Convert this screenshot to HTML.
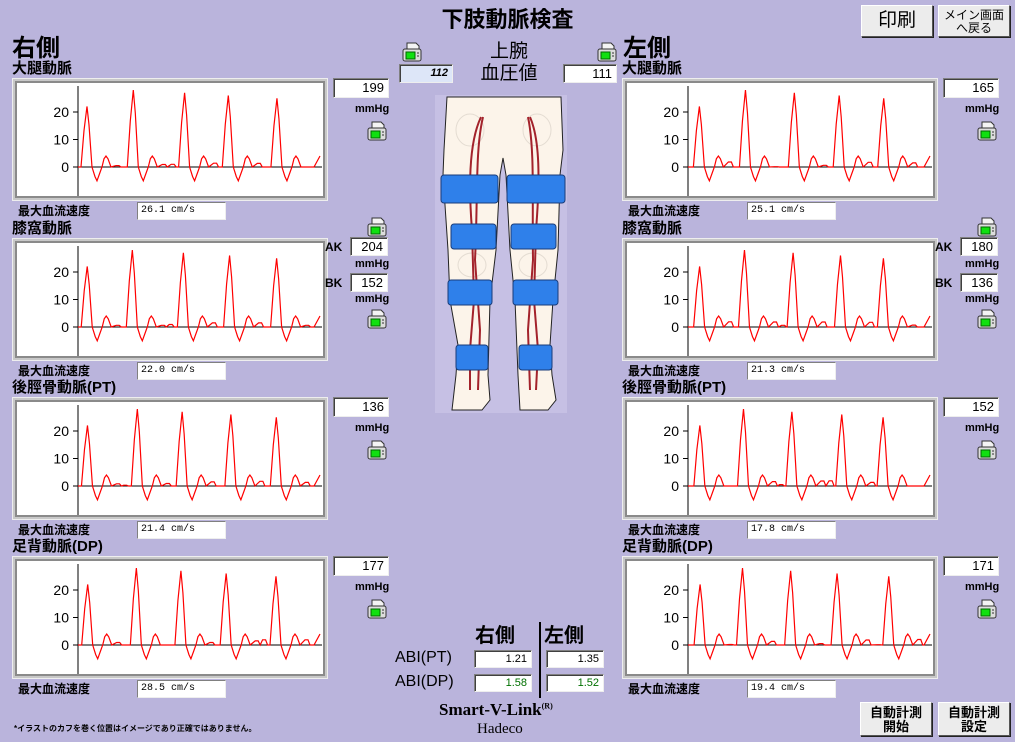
<!DOCTYPE html>
<html><head><meta charset="utf-8">
<style>
*{margin:0;padding:0;box-sizing:border-box}
body{width:1015px;height:742px;background:#bab4dc;position:relative;overflow:hidden;font-family:"Liberation Sans","Noto Sans CJK JP",sans-serif;color:#000}
.a{position:absolute;white-space:nowrap}
.box{position:absolute;background:#fff;border:1px solid #808080;border-right-color:#eee;border-bottom-color:#eee;box-shadow:inset 1px 1px 0 #404040;font-family:"Liberation Sans",sans-serif;font-size:13px;text-align:right;padding-right:4px;line-height:17px}
.vbox{position:absolute;background:#fff;border:1px solid #808080;border-right-color:#eee;border-bottom-color:#eee;font-family:"Liberation Mono",monospace;font-size:10px;padding-left:3px;line-height:16px}
.btn{position:absolute;background:#ececec;border:1px solid #fff;border-right-color:#555;border-bottom-color:#555;box-shadow:1px 1px 0 #222;text-align:center;font-weight:bold}
.lbl{font-size:15px;font-weight:bold;line-height:18px}
.mm{font-size:11px;font-weight:bold}
</style></head><body>
<div class="a" style="left:0;width:1015px;top:2px;text-align:center;font-size:22px;font-weight:bold">下肢動脈検査</div>
<div class="btn" style="left:861px;top:5px;width:72px;height:32px;font-size:19px;line-height:30px;font-weight:normal">印刷</div>
<div class="btn" style="left:938px;top:5px;width:72px;height:32px;font-size:12px;line-height:13px;padding-top:3px;font-weight:normal">メイン画面<br>へ戻る</div>
<div class="btn" style="left:860px;top:702px;width:72px;height:34px;font-size:13px;line-height:14px;padding-top:3px">自動計測<br>開始</div>
<div class="btn" style="left:938px;top:702px;width:72px;height:34px;font-size:13px;line-height:14px;padding-top:3px">自動計測<br>設定</div>

<div class="a" style="left:12px;top:36px;font-size:24px;line-height:26px;font-weight:bold">右側</div>
<div class="a" style="left:623px;top:36px;font-size:24px;line-height:26px;font-weight:bold">左側</div>

<div class="a" style="left:478px;top:41px;font-size:19px;line-height:22px;text-align:center;width:62px">上腕<br>血圧値</div>
<div class="box" style="left:399px;top:64px;width:54px;height:19px;background:#dde6f8;font-style:italic;font-weight:bold;font-size:11px">112</div>
<div class="box" style="left:563px;top:64px;width:54px;height:19px">111</div>

<div id="root"></div>

<!-- legs -->
<svg class="a" style="left:435px;top:95px" width="132" height="318" viewBox="435 95 132 318">
<rect x="435" y="95" width="132" height="318" fill="#c6c0e4"/>
<path d="M447 97 L561 97 L563 150 L560 175 L558 250 L553 300 L550 345 L552 375 L556 400 L548 410 L520 410 L518 375 L515 300 L510 250 L506 175 L503 158 L500 175 L496 250 L490 300 L488 375 L490 400 L482 410 L452 410 L456 375 L458 345 L450 300 L448 250 L443 175 L444 150 Z" fill="#fcf4ea" stroke="#222" stroke-width="1"/>
<g stroke="#e4dcd2" stroke-width="1" fill="none">
<ellipse cx="470" cy="130" rx="14" ry="16"/><ellipse cx="537" cy="130" rx="14" ry="16"/>
<ellipse cx="472" cy="265" rx="14" ry="12"/><ellipse cx="533" cy="265" rx="14" ry="12"/>
</g>
<g stroke="#a3222b" stroke-width="2" fill="none">
<path d="M481 117 C470 140 468 180 472 230 L474 300 L470 350 L470 390"/>
<path d="M483 117 C475 150 478 200 475 260 L480 330 L478 390"/>
<path d="M530 117 C540 140 540 180 536 230 L534 300 L538 350 L536 390"/>
<path d="M528 117 C535 150 532 200 533 260 L528 330 L530 390"/>
</g>
<g fill="#2f80ea" stroke="#1a3d7a" stroke-width="1">
<rect x="441" y="175" width="57" height="28" rx="3"/><rect x="507" y="175" width="58" height="28" rx="3"/>
<rect x="451" y="224" width="45" height="25" rx="3"/><rect x="511" y="224" width="45" height="25" rx="3"/>
<rect x="448" y="280" width="44" height="25" rx="3"/><rect x="513" y="280" width="45" height="25" rx="3"/>
<rect x="456" y="345" width="32" height="25" rx="3"/><rect x="519" y="345" width="33" height="25" rx="3"/>
</g>
</svg>

<div class="a" style="left:475px;top:619px;font-size:20px;font-weight:bold">右側</div>
<div class="a" style="left:544px;top:619px;font-size:20px;font-weight:bold">左側</div>
<div class="a" style="left:539px;top:622px;width:2px;height:76px;background:#000"></div>
<div class="a" style="left:395px;top:649px;font-size:16px">ABI(PT)</div>
<div class="a" style="left:395px;top:673px;font-size:16px">ABI(DP)</div>
<div class="box" style="left:474px;top:650px;width:58px;height:18px;font-size:11px">1.21</div>
<div class="box" style="left:546px;top:650px;width:58px;height:18px;font-size:11px">1.35</div>
<div class="box" style="left:474px;top:674px;width:58px;height:18px;font-size:11px;color:#007000">1.58</div>
<div class="box" style="left:546px;top:674px;width:58px;height:18px;font-size:11px;color:#007000">1.52</div>
<div class="a" style="left:439px;top:700px;font-family:'Liberation Serif',serif;font-size:17px;font-weight:bold">Smart-V-Link<sup style="font-size:8px">(R)</sup></div>
<div class="a" style="left:477px;top:721px;font-family:'Liberation Serif',serif;font-size:15px">Hadeco</div>
<div class="a" style="left:14px;top:723px;font-size:8px;font-weight:bold">*イラストのカフを巻く位置はイメージであり正確ではありません。</div>

<script>
function printer(x,y){return `<svg class="a" style="left:${x}px;top:${y}px" width="20" height="20" viewBox="0 0 20 20"><path d="M5 1 L14 1 L17 4 L17 7 L5 7Z" fill="#f4f4f4" stroke="#333"/><rect x="1" y="7" width="18" height="12" rx="2" fill="#ddd" stroke="#333"/><rect x="4" y="10" width="9" height="7" fill="#10e010" stroke="#060"/><line x1="15" y1="11" x2="17" y2="11" stroke="#333"/><line x1="15" y1="14" x2="17" y2="14" stroke="#333"/></svg>`}
function wave(seed,amps){
  let r=seed;function rnd(){r=(r*9301+49297)%233280;return r/233280}
  let peaks=[];
  for(let k=0;k<5;k++)peaks.push(76+k*47+(rnd()-.5)*6);
  let d="M66 0";
  for(let i=0;i<peaks.length;i++){
    const p=peaks[i],a=amps[i];
    d+=` L${p-6} 0 L${p-3} ${a*0.6} L${p} ${a} L${p+2} ${a*0.7} L${p+5} 0 L${p+8} -3.5 L${p+10} -5 L${p+13} -2 L${p+15} 0 L${p+17} 3 L${p+19} 4 L${p+21} 3 L${p+24} 0`;
    const nx=(i<peaks.length-1?peaks[i+1]:308)-6;
    let q=p+29;
    while(q<nx-5){const h=(rnd()*2).toFixed(1);d+=` L${q} ${h} L${q+3} ${h} L${q+5} 0`;q+=7+rnd()*5}
    d+=` L${nx} 0`;
  }
  d+=" L308 4";
  return d;
}
function chart(x,y,seed){
  const amps=[0,1,2,3,4].map(i=>22+((seed*7+i*13)%7));
  const d=wave(seed,amps);
  const z=89, s=2.75;
  const path=d.replace(/(-?[\d.]+) (-?[\d.]+)/g,(m,a,b)=>a+" "+(z-parseFloat(b)*s).toFixed(1));
  return `<svg class="a" style="left:${x}px;top:${y}px" width="316" height="123" viewBox="0 0 316 123">
<rect x="0.5" y="0.5" width="315" height="122" fill="#c8c8c8" stroke="#eee"/>
<rect x="3" y="3" width="310" height="117" fill="#8a8a8a"/>
<rect x="5" y="5" width="306" height="113" fill="#fff"/>
<line x1="66" y1="8" x2="66" y2="118" stroke="#000"/>
<line x1="66" y1="${z}" x2="310" y2="${z}" stroke="#000"/>
<g font-size="14" text-anchor="end" font-family="Liberation Sans">
<text x="57" y="${z-55+5}">20</text><text x="57" y="${z-27.5+5}">10</text><text x="57" y="${z+5}">0</text></g>
<line x1="61" y1="${z-55}" x2="66" y2="${z-55}" stroke="#000"/><line x1="61" y1="${z-27.5}" x2="66" y2="${z-27.5}" stroke="#000"/><line x1="61" y1="${z}" x2="66" y2="${z}" stroke="#000"/>
<path d="${path}" fill="none" stroke="#f00" stroke-width="1.2"/></svg>`;
}
const names=["大腿動脈","膝窩動脈","後脛骨動脈(PT)","足背動脈(DP)"];
const tops=[78,238,397,556];
const vels=[["26.1","22.0","21.4","28.5"],["25.1","21.3","17.8","19.4"]];
const vals=[["199",null,"136","177"],["165",null,"152","171"]];
const ak=[["204","152"],["180","136"]];
let h="";
for(let s=0;s<2;s++){
  const ox=s?610:0;
  for(let i=0;i<4;i++){
    const t=tops[i];
    h+=`<div class="a lbl" style="left:${ox+12}px;top:${t-18}px">${names[i]}</div>`;
    h+=chart(ox+12,t,s*10+i+3);
    h+=`<div class="a" style="left:${ox+18}px;top:${t+124}px;font-size:12px;font-weight:bold">最大血流速度</div>`;
    h+=`<div class="vbox" style="left:${ox+137}px;top:${t+124}px;width:89px;height:18px">${vels[s][i]} cm/s</div>`;
    if(i!==1){
      h+=`<div class="box" style="left:${ox+333}px;top:${t}px;width:56px;height:20px">${vals[s][i]}</div>`;
      h+=`<div class="a mm" style="left:${ox+355}px;top:${t+25}px">mmHg</div>`;
      h+=printer(ox+367,t+43);
    }else{
      h+=printer(ox+367,t-21);
      h+=`<div class="a" style="left:${ox+325}px;top:${t+2}px;font-size:12px;font-weight:bold">AK</div>`;
      h+=`<div class="box" style="left:${ox+350}px;top:${t-1}px;width:38px;height:19px">${ak[s][0]}</div>`;
      h+=`<div class="a mm" style="left:${ox+355}px;top:${t+20}px">mmHg</div>`;
      h+=`<div class="a" style="left:${ox+325}px;top:${t+38}px;font-size:12px;font-weight:bold">BK</div>`;
      h+=`<div class="box" style="left:${ox+350}px;top:${t+35}px;width:38px;height:19px">${ak[s][1]}</div>`;
      h+=`<div class="a mm" style="left:${ox+355}px;top:${t+55}px">mmHg</div>`;
      h+=printer(ox+367,t+71);
    }
  }
}
h+=printer(402,42)+printer(597,42);
document.getElementById("root").innerHTML=h;
</script>
</body></html>
